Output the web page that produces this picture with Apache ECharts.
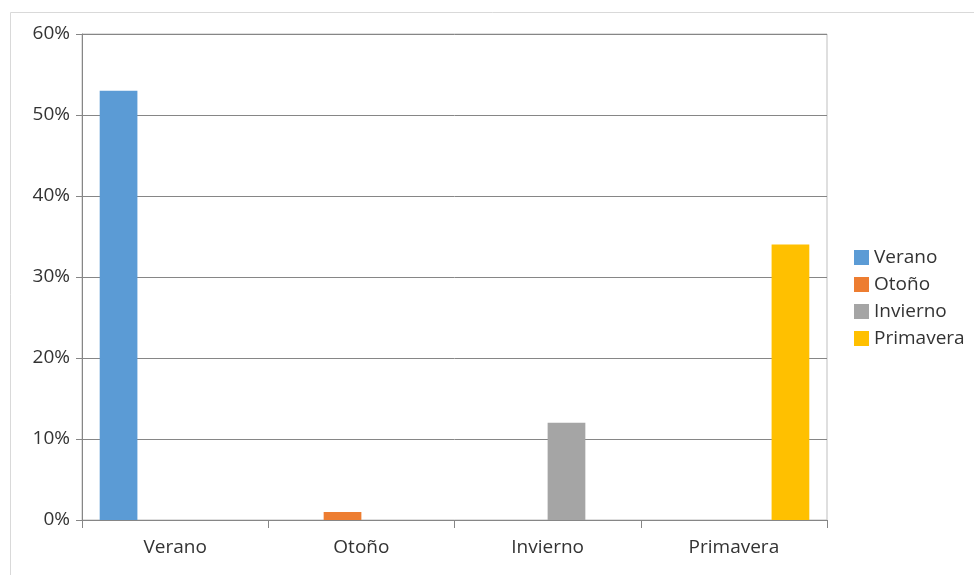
<!DOCTYPE html>
<html>
<head>
<meta charset="utf-8">
<script src="https://cdn.jsdelivr.net/npm/echarts@6/dist/echarts.min.js"></script>
<style>
html,body{margin:0;padding:0;background:#fff;}
#chart{width:974px;height:575px;}
</style>
</head>
<body>
<div id="chart"></div>
<script>
const categories = ['Verano', 'Otoño', 'Invierno', 'Primavera'];
const seriesNames = ['Verano', 'Otoño', 'Invierno', 'Primavera'];
const verano = [53, null, null, null];
const otono = [null, 1, null, null];
const invierno = [null, null, 12, null];
const primavera = [null, null, null, 34];
const seriesValues = [verano, otono, invierno, primavera];
const colors = ['#5B9BD5', '#ED7D31', '#A5A5A5', '#FFC000'];
const yTicks = [0, 10, 20, 30, 40, 50, 60];

const FONT = '"Open Sans", "Noto Sans", sans-serif';
const TXT = '#333333';
const chart = echarts.init(document.getElementById('chart'));
chart.setOption({
  animation: false,
  color: colors,
  textStyle: { fontFamily: FONT },
  graphic: [{
    type: 'rect',
    shape: { x: 10.5, y: 12.5, width: 2000, height: 2000 },
    style: { fill: 'none', stroke: '#d9d9d9', lineWidth: 1 },
    silent: true, z: -1
  }],
  grid: {
    left: 82, right: 147, top: 34, bottom: 55,
    show: true, borderColor: '#bfbfbf', borderWidth: 1, backgroundColor: 'transparent'
  },
  legend: {
    orient: 'vertical',
    left: 849, top: 243,
    itemWidth: 15, itemHeight: 15, itemGap: 8,
    icon: 'rect',
    textStyle: { fontSize: 19, color: TXT, fontFamily: FONT },
    data: seriesNames
  },
  xAxis: {
    type: 'category',
    data: categories,
    axisLine: { lineStyle: { color: '#868686', width: 1 } },
    axisTick: { show: true, length: 8, lineStyle: { color: '#868686' } },
    axisLabel: { fontSize: 19, color: TXT, margin: 18, fontFamily: FONT }
  },
  yAxis: {
    type: 'value',
    min: 0, max: 60, interval: 10,
    axisLine: { show: true, lineStyle: { color: '#868686', width: 1 } },
    axisTick: { show: true, length: 6, lineStyle: { color: '#868686' } },
    axisLabel: { fontSize: 19, color: TXT, margin: 12, fontFamily: FONT,
      formatter: v => yTicks.includes(v) ? v + '%' : '' },
    splitLine: { show: true, lineStyle: { color: '#868686', width: 1 } }
  },
  series: seriesNames.map((name, i) => ({
    name: name,
    type: 'bar',
    data: seriesValues[i],
    barGap: '0%',
    barCategoryGap: '19%',
    itemStyle: { color: colors[i] }
  }))
});
</script>
</body>
</html>
